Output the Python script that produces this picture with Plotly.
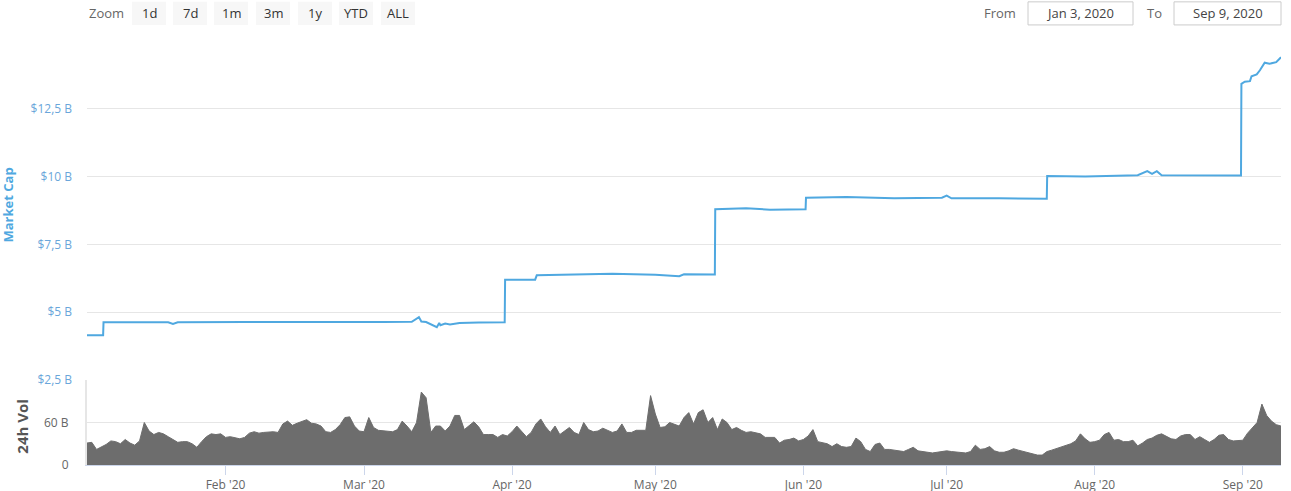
import pandas as pd
import plotly.graph_objects as go

# ---------------- data ----------------
# Market cap (billions USD), sampled at the times where the line changes
mcap_times = [
    "2020-01-03 00:00", "2020-01-06 09:00", "2020-01-06 11:00", "2020-01-12 00:00",
    "2020-01-20 00:00", "2020-01-21 00:00", "2020-01-22 00:00", "2020-02-05 00:00",
    "2020-02-20 00:00", "2020-03-05 00:00", "2020-03-11 00:00", "2020-03-12 12:00",
    "2020-03-13 00:00", "2020-03-14 00:00", "2020-03-16 06:00", "2020-03-16 18:00",
    "2020-03-17 00:00", "2020-03-18 00:00", "2020-03-19 00:00", "2020-03-21 00:00",
    "2020-03-25 00:00", "2020-03-30 11:00", "2020-03-30 13:00", "2020-04-05 20:00",
    "2020-04-06 04:00", "2020-04-15 00:00", "2020-04-22 00:00", "2020-05-01 00:00",
    "2020-05-06 00:00", "2020-05-07 00:00", "2020-05-13 11:00", "2020-05-13 13:00",
    "2020-05-20 00:00", "2020-05-25 00:00", "2020-06-01 11:00", "2020-06-01 13:00",
    "2020-06-10 00:00", "2020-06-20 00:00", "2020-06-30 00:00", "2020-07-01 00:00",
    "2020-07-02 00:00", "2020-07-12 00:00", "2020-07-21 23:00", "2020-07-22 01:00",
    "2020-07-30 00:00", "2020-08-10 00:00", "2020-08-12 00:00", "2020-08-13 00:00",
    "2020-08-14 00:00", "2020-08-15 00:00", "2020-08-25 00:00", "2020-08-31 15:00",
    "2020-08-31 17:00", "2020-09-01 10:00", "2020-09-02 12:00", "2020-09-02 20:00",
    "2020-09-03 22:00", "2020-09-04 14:00", "2020-09-05 14:00", "2020-09-06 14:00",
    "2020-09-08 00:00", "2020-09-09 00:00",
]
mcap_values = [
    4.15, 4.15, 4.63, 4.64,
    4.63, 4.57, 4.63, 4.64,
    4.63, 4.64, 4.65, 4.82,
    4.66, 4.64, 4.45, 4.60,
    4.52, 4.58, 4.55, 4.60,
    4.62, 4.63, 6.20, 6.20,
    6.36, 6.38, 6.42, 6.38,
    6.33, 6.40, 6.39, 8.80,
    8.83, 8.78, 8.80, 9.22,
    9.25, 9.20, 9.22, 9.30,
    9.20, 9.20, 9.18, 10.02,
    10.00, 10.05, 10.20, 10.10,
    10.20, 10.05, 10.03, 10.04,
    13.42, 13.50, 13.52, 13.70,
    13.77, 13.92, 14.20, 14.16,
    14.22, 14.40,
]

# 24h volume (billions USD), one value per day from Jan 3 to Sep 9, 2020
vol_start = "2020-01-03"
vol_end = "2020-09-09"
vol_values = [
    31, 32, 22, 25, 29, 34, 33, 30, 36, 31,
    28, 34, 60, 48, 43, 46, 44, 40, 36, 32,
    33, 33, 30, 25, 33, 40, 44, 43, 44, 39,
    40, 39, 37, 39, 45, 47, 45, 46, 47, 47,
    46, 58, 62, 56, 59, 61, 64, 59, 58, 55,
    47, 46, 50, 57, 67, 68, 55, 48, 47, 67,
    53, 49, 48, 48, 47, 50, 62, 55, 47, 60,
    103, 95, 46, 55, 55, 48, 55, 70, 70, 50,
    55, 61, 54, 43, 43, 43, 39, 43, 41, 47,
    55, 48, 40, 46, 58, 65, 54, 46, 55,
    43, 48, 53, 46, 43, 60, 50, 47, 48, 52,
    49, 46, 48, 58, 46, 46, 49, 49, 49, 98,
    72, 53, 54, 60, 58, 55, 67, 74, 58, 74,
    78, 60, 67, 50, 65, 60, 50, 53, 49, 46,
    47, 46, 44, 39, 39, 39, 31, 35, 36, 38,
    34, 36, 41, 50, 33, 31, 30, 26, 30, 26,
    25, 26, 38, 33, 22, 19, 29, 31, 22, 22,
    21, 19, 19, 22, 25, 20, 19, 19, 17, 18,
    19, 20, 19, 18, 17, 17, 19, 28, 22, 23,
    26, 20, 18, 18, 20, 23, 21, 19, 17, 15,
    14, 14, 19, 21, 23, 25, 27, 30, 34, 44,
    37, 32, 33, 35, 43, 46, 35, 36, 33, 33,
    35, 27, 31, 36, 38, 42, 44, 40, 37, 36,
    41, 43, 43, 36, 40, 36, 32, 36, 42, 43,
    36, 34, 34, 35, 45, 53, 60, 86, 70, 62,
    57, 55,
]
vol_dates = pd.date_range(vol_start, vol_end, freq="D")
assert len(vol_dates) == len(vol_values)

month_ticks = ["2020-02-01", "2020-03-01", "2020-04-01", "2020-05-01",
               "2020-06-01", "2020-07-01", "2020-08-01", "2020-09-01"]
month_labels = ["Feb '20", "Mar '20", "Apr '20", "May '20",
                "Jun '20", "Jul '20", "Aug '20", "Sep '20"]

mcap_ticks = [2.5, 5, 7.5, 10, 12.5, 15]
mcap_labels = ["$2,5 B", "$5 B", "$7,5 B", "$10 B", "$12,5 B", ""]
vol_ticks = [0, 60, 120]
vol_labels = ["0", "60 B", ""]

zoom_buttons = ["1d", "7d", "1m", "3m", "1y", "YTD", "ALL"]
range_from = "Jan 3, 2020"
range_to = "Sep 9, 2020"

# ---------------- layout geometry ----------------
W, H = 1291, 503
SY = H / 491.0  # vertical scale from reference pixels to figure pixels
L, R = 87, 10
T = round(40 * SY)
B = H - round(463 * SY)
PW, PH = W - L - R, H - T - B
FONT = "Open Sans"
LINE_BLUE = "#4fa8e0"


def px(x):
    return (x - L) / PW


def py(y):
    return (H - B - y * SY) / PH


split = py(378)

fig = go.Figure()
fig.add_trace(go.Scatter(
    x=pd.to_datetime(mcap_times), y=mcap_values, mode="lines",
    line=dict(color=LINE_BLUE, width=2), xaxis="x2", yaxis="y2",
    name="Market Cap", hoverinfo="skip"))
fig.add_trace(go.Scatter(
    x=vol_dates, y=vol_values, mode="lines", fill="tozeroy",
    line=dict(color="#6d6d6d", width=1), fillcolor="#6d6d6d",
    xaxis="x", yaxis="y", name="24h Vol", hoverinfo="skip"))

x_range = [pd.Timestamp(vol_start), pd.Timestamp(vol_end)]

fig.update_layout(
    width=W, height=H,
    margin=dict(l=L, r=R, t=T, b=B),
    paper_bgcolor="white", plot_bgcolor="white",
    showlegend=False,
    font=dict(family=FONT, color="#666666", size=12),
    xaxis=dict(domain=[0, 1], anchor="y", type="date", range=x_range,
               tickvals=month_ticks, ticktext=month_labels,
               ticks="outside", ticklen=9, tickcolor="#ccd6eb", tickwidth=1,
               showgrid=False, showline=True, linecolor="#ccd6eb",
               zeroline=False, tickfont=dict(size=12, color="#666666")),
    xaxis2=dict(domain=[0, 1], anchor="y2", matches="x", type="date",
                showticklabels=False, showgrid=False, ticks="",
                showline=False, zeroline=False),
    yaxis=dict(domain=[0, split], range=[0, 120], tickvals=vol_ticks,
               ticktext=vol_labels, gridcolor="#e6e6e6", zeroline=False,
               showline=True, linecolor="#e6e6e6", linewidth=2, ticks="",
               ticklabelstandoff=14, tickfont=dict(size=12, color="#666666")),
    yaxis2=dict(domain=[split, 1], range=[2.5, 15], tickvals=mcap_ticks,
                ticktext=mcap_labels, gridcolor="#e6e6e6", zeroline=False,
                showline=False, ticks="", ticklabelstandoff=14,
                tickfont=dict(size=12, color="#6aa6da")),
)

annotations = [
    dict(text="<b>Market Cap</b>", x=px(8), y=py(204), xref="paper", yref="paper",
         textangle=-90, showarrow=False, xanchor="center", yanchor="middle",
         font=dict(family=FONT, size=13, color="#4fa8e0")),
    dict(text="<b>24h Vol</b>", x=px(22.5), y=py(424), xref="paper", yref="paper",
         textangle=-90, showarrow=False, xanchor="center", yanchor="middle",
         font=dict(family=FONT, size=15, color="#555555")),
    dict(text="Zoom", x=px(87), y=py(12), xref="paper", yref="paper",
         showarrow=False, xanchor="left", yanchor="middle",
         font=dict(family=FONT, size=13, color="#666666")),
    dict(text="From", x=px(1018), y=py(12), xref="paper", yref="paper",
         showarrow=False, xanchor="right", yanchor="middle",
         font=dict(family=FONT, size=13, color="#666666")),
    dict(text="To", x=px(1164), y=py(12), xref="paper", yref="paper",
         showarrow=False, xanchor="right", yanchor="middle",
         font=dict(family=FONT, size=13, color="#666666")),
    dict(text=range_from, x=px(1080), y=py(12), xref="paper", yref="paper",
         showarrow=False, xanchor="center", yanchor="middle",
         font=dict(family=FONT, size=13, color="#444444")),
    dict(text=range_to, x=px(1228), y=py(12), xref="paper", yref="paper",
         showarrow=False, xanchor="center", yanchor="middle",
         font=dict(family=FONT, size=13, color="#444444")),
]
shapes = []
btn_left = [132, 173, 214, 256, 298, 339, 381]
for lbl, bx in zip(zoom_buttons, btn_left):
    shapes.append(dict(type="rect", xref="paper", yref="paper",
                       x0=px(bx), x1=px(bx + 34), y0=py(24), y1=py(1),
                       fillcolor="#f7f7f7", line=dict(width=0), layer="below"))
    annotations.append(dict(text=lbl, x=px(bx + 17), y=py(12), xref="paper",
                            yref="paper", showarrow=False, xanchor="center",
                            yanchor="middle",
                            font=dict(family=FONT, size=13, color="#333333")))
for x0, x1 in [(1028, 1133), (1174, 1281)]:
    shapes.append(dict(type="rect", xref="paper", yref="paper",
                       x0=px(x0), x1=px(x1), y0=py(24), y1=py(1),
                       fillcolor="white", line=dict(color="#cccccc", width=1)))

fig.update_layout(annotations=annotations, shapes=shapes)
fig.write_html("out.html", config={"displayModeBar": False},
               post_script="document.body.style.margin='0';"
                           "document.body.style.padding='0';")
